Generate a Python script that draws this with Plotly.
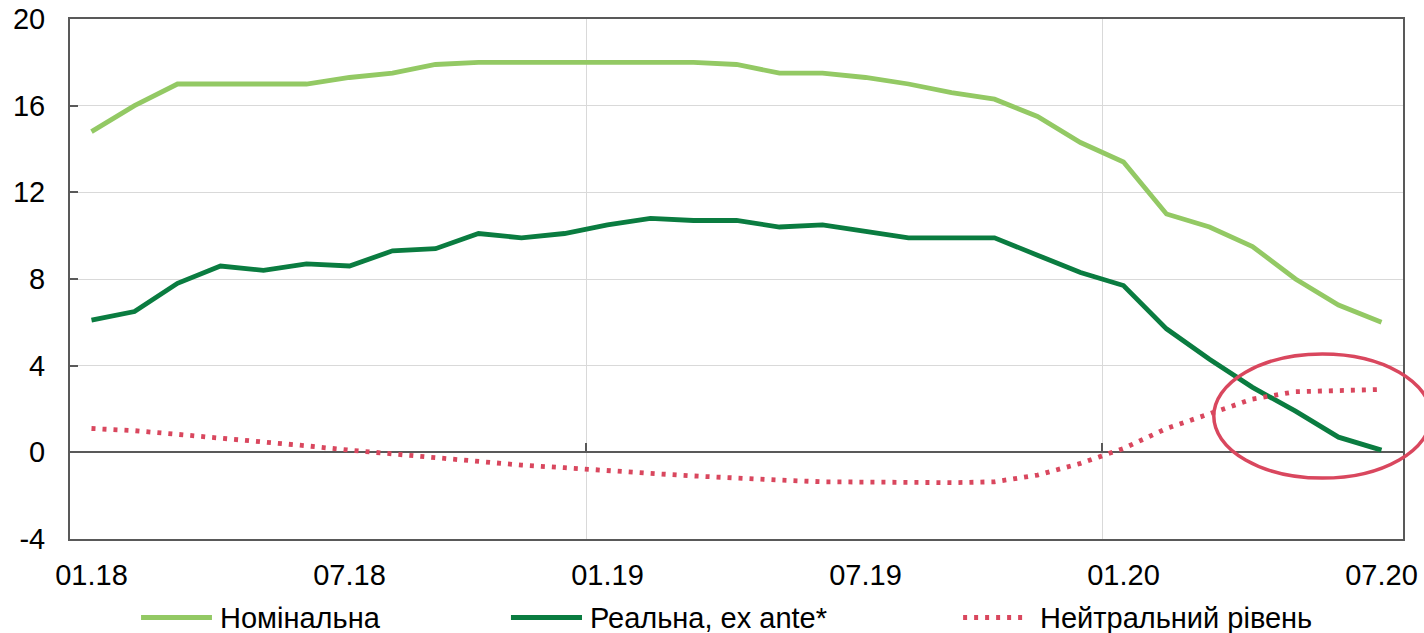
import plotly.graph_objects as go

# ---- data ----
months = ["01.18", "02.18", "03.18", "04.18", "05.18", "06.18", "07.18", "08.18", "09.18", "10.18",
          "11.18", "12.18", "01.19", "02.19", "03.19", "04.19", "05.19", "06.19", "07.19", "08.19",
          "09.19", "10.19", "11.19", "12.19", "01.20", "02.20", "03.20", "04.20", "05.20", "06.20", "07.20"]

nominal = [14.8, 16.0, 17.0, 17.0, 17.0, 17.0, 17.3, 17.5, 17.9, 18.0,
           18.0, 18.0, 18.0, 18.0, 18.0, 17.9, 17.5, 17.5, 17.3, 17.0,
           16.6, 16.3, 15.5, 14.3, 13.4, 11.0, 10.4, 9.5, 8.0, 6.8, 6.0]

real_ex_ante = [6.1, 6.5, 7.8, 8.6, 8.4, 8.7, 8.6, 9.3, 9.4, 10.1,
                9.9, 10.1, 10.5, 10.8, 10.7, 10.7, 10.4, 10.5, 10.2, 9.9,
                9.9, 9.9, 9.1, 8.3, 7.7, 5.7, 4.3, 3.0, 1.9, 0.7, 0.1]

neutral = [1.1, 1.0, 0.83, 0.67, 0.5, 0.3, 0.1, -0.08, -0.28, -0.46,
           -0.59, -0.71, -0.86, -0.97, -1.09, -1.2, -1.28, -1.36, -1.39, -1.4,
           -1.4, -1.36, -1.05, -0.51, 0.18, 1.1, 1.8, 2.46, 2.8, 2.85, 2.9]

series_names = ["Номінальна", "Реальна, ex ante*", "Нейтральний рівень"]
y_ticks = [-4, 0, 4, 8, 12, 16, 20]

# ---- styling ----
colors = ["#93c964", "#0a7c40", "#d9475e"]
dashes = ["solid", "solid", "4px,7px"]
axis_gray = "#595959"
grid_gray = "#d9d9d9"
FONT = "Arial, Liberation Sans, sans-serif"
FS = 29

idx = list(range(len(months)))
x_range = [-0.5, len(months) - 0.5]
y_range = [y_ticks[0], y_ticks[-1]]

fig = go.Figure()
for name, vals, col, dsh in zip(series_names, [nominal, real_ex_ante, neutral], colors, dashes):
    fig.add_trace(go.Scatter(x=idx, y=vals, mode="lines", name=name,
                             line=dict(color=col, width=4.8, dash=dsh),
                             showlegend=False, xaxis="x", yaxis="y"))

# dummy trace to create the overlay axis with year boundary gridlines / ticks on zero line
fig.add_trace(go.Scatter(x=[None], y=[None], xaxis="x2", yaxis="y", showlegend=False,
                         hoverinfo="skip"))

year_bounds = [i - 0.5 for i in range(12, len(months), 12)]
zero_pos = (0 - y_range[0]) / (y_range[1] - y_range[0])

fig.update_layout(
    width=1424, height=633,
    margin=dict(l=70, r=21, t=19, b=94, autoexpand=False),
    paper_bgcolor="white", plot_bgcolor="white",
    font=dict(family=FONT, size=FS, color="#000000"),
    xaxis=dict(range=x_range, tickmode="array", tickvals=idx[::6], ticktext=months[::6],
               showgrid=False, zeroline=False, showline=True, mirror=True,
               linecolor=axis_gray, linewidth=2, ticks="", ticklabelstandoff=9,
               automargin=False,
               tickfont=dict(family=FONT, size=FS, color="#000000")),
    xaxis2=dict(range=x_range, overlaying="x", anchor="free", position=zero_pos, side="bottom",
                tickmode="array", tickvals=year_bounds, ticks="inside", ticklen=9, tickwidth=2,
                tickcolor=axis_gray, showgrid=True, gridcolor=grid_gray, gridwidth=1,
                showticklabels=False, showline=False, zeroline=False, automargin=False),
    yaxis=dict(range=y_range, tickmode="array", tickvals=y_ticks,
               ticktext=[str(v) for v in y_ticks], ticks="inside", ticklen=8,
               tickwidth=2, tickcolor=axis_gray, showgrid=True, gridcolor=grid_gray, gridwidth=1,
               zeroline=True, zerolinecolor=axis_gray, zerolinewidth=2,
               showline=True, mirror=True, linecolor=axis_gray, linewidth=2,
               ticklabelstandoff=17, automargin=False,
               tickfont=dict(family=FONT, size=FS, color="#000000")),
)

# highlight ellipse (defined in data units, converted to paper so it is not clipped)
def px(v):
    return (v - x_range[0]) / (x_range[1] - x_range[0])

def py(v):
    return (v - y_range[0]) / (y_range[1] - y_range[0])

ell_x = [26.1, 31.15]
ell_y = [-1.19, 4.54]
fig.add_shape(type="circle", xref="paper", yref="paper",
              x0=px(ell_x[0]), x1=px(ell_x[1]), y0=py(ell_y[0]), y1=py(ell_y[1]),
              line=dict(color=colors[2], width=3.5), fillcolor="rgba(0,0,0,0)", layer="above")

# custom legend below the chart
leg_y = -0.151
leg_line_x = [(0.0533, 0.1065), (0.3308, 0.3841), (0.670, 0.7194)]
leg_text_x = [0.111, 0.3886, 0.7262]
for name, col, dsh, (lx0, lx1), tx in zip(series_names, colors, dashes, leg_line_x, leg_text_x):
    fig.add_shape(type="line", xref="paper", yref="paper", x0=lx0, x1=lx1, y0=leg_y, y1=leg_y,
                  line=dict(color=col, width=4.8, dash=dsh))
    fig.add_annotation(xref="paper", yref="paper", x=tx, y=leg_y, text=name, showarrow=False,
                       xanchor="left", yanchor="middle",
                       font=dict(family=FONT, size=FS, color="#000000"))

fig.write_html("out.html", config={"displayModeBar": False},
               post_script="document.body.style.margin='0';document.body.style.overflow='hidden';")
